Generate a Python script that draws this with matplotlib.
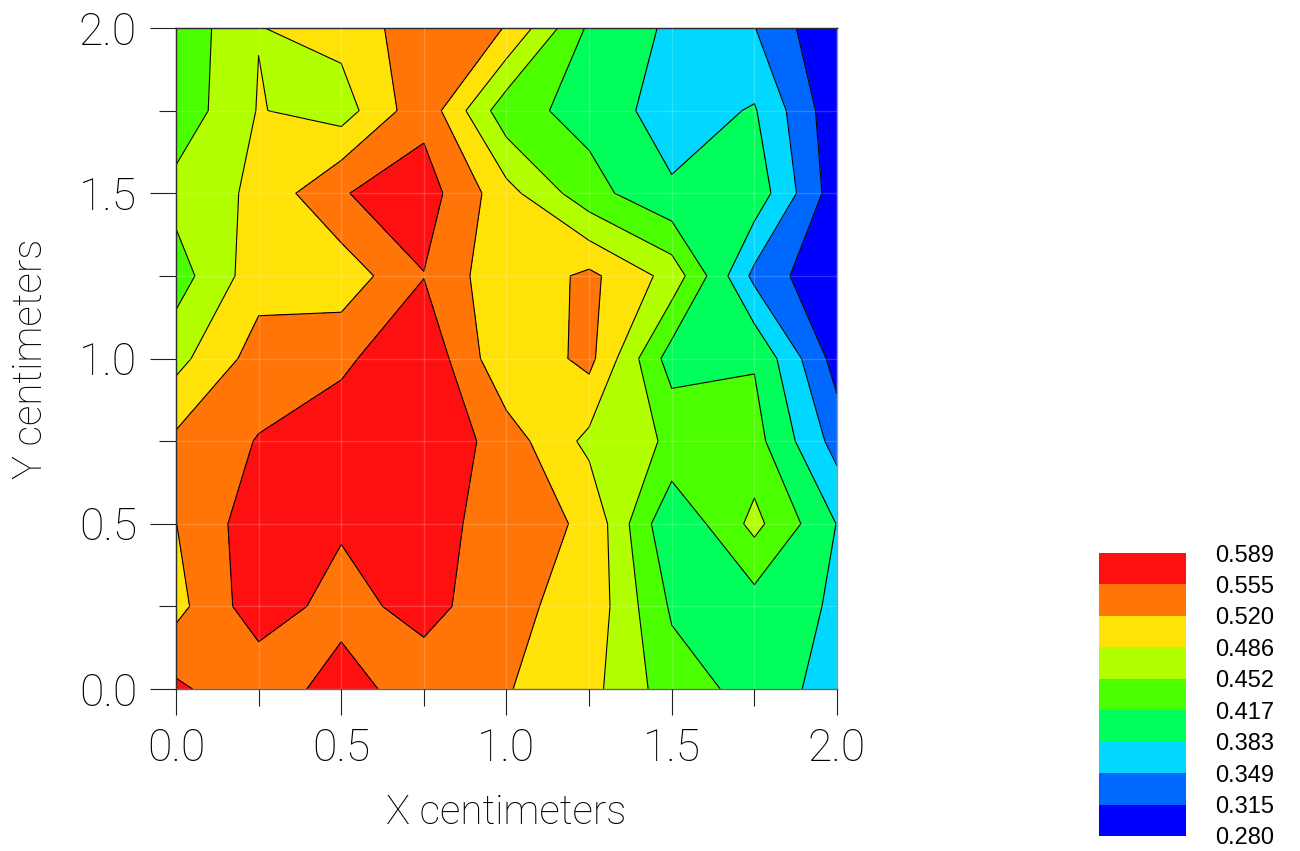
import matplotlib
matplotlib.use("Agg")
import matplotlib.pyplot as plt
from matplotlib.ticker import MultipleLocator, FormatStrFormatter

# -----------------------------
# Grid data
# -----------------------------
x_cm = [0.0, 0.25, 0.5, 0.75, 1.0, 1.25, 1.5, 1.75, 2.0]
y_cm = [0.0, 0.25, 0.5, 0.75, 1.0, 1.25, 1.5, 1.75, 2.0]

# one row per y value, bottom (y=0) first
z_vals = [
    [0.562, 0.527, 0.575, 0.530, 0.522, 0.497, 0.434, 0.405, 0.367],
    [0.509, 0.576, 0.540, 0.570, 0.526, 0.511, 0.412, 0.401, 0.379],
    [0.5195, 0.576, 0.560, 0.573, 0.535, 0.515, 0.385, 0.462, 0.382],
    [0.527, 0.557, 0.575, 0.587, 0.537, 0.477, 0.447, 0.430, 0.335],
    [0.475, 0.535, 0.548, 0.583, 0.491, 0.530, 0.400, 0.414, 0.300],
    [0.436, 0.506, 0.498, 0.554, 0.493, 0.528, 0.474, 0.340, 0.282],
    [0.464, 0.493, 0.553, 0.572, 0.498, 0.430, 0.388, 0.405, 0.295],
    [0.429, 0.488, 0.470, 0.544, 0.430, 0.405, 0.366, 0.386, 0.290],
    [0.427, 0.485, 0.498, 0.540, 0.519, 0.411, 0.377, 0.350, 0.281],
]

levels = [0.280, 0.315, 0.349, 0.383, 0.417, 0.452, 0.486, 0.520, 0.555, 0.589]
level_labels = ['0.280', '0.315', '0.349', '0.383', '0.417',
                '0.452', '0.486', '0.520', '0.555', '0.589']
band_colors = ['#0000ff', '#0068ff', '#00d8ff', '#00ff5a', '#4cff00',
               '#b2ff00', '#ffe208', '#ff7508', '#ff1010']

# -----------------------------
# Figure
# -----------------------------
W, H = 1300, 851
fig = plt.figure(figsize=(W / 100, H / 100), dpi=100)
ax = fig.add_axes([176 / W, 1 - 689 / H, 661 / W, 661 / H])

ax.contourf(x_cm, y_cm, z_vals, levels=levels, colors=band_colors)
ax.contour(x_cm, y_cm, z_vals, levels=levels[1:-1], colors='black', linewidths=0.8)

ax.set_xlim(0, 2)
ax.set_ylim(0, 2)
ax.xaxis.set_major_locator(MultipleLocator(0.5))
ax.yaxis.set_major_locator(MultipleLocator(0.5))
ax.xaxis.set_minor_locator(MultipleLocator(0.25))
ax.yaxis.set_minor_locator(MultipleLocator(0.25))
ax.xaxis.set_major_formatter(FormatStrFormatter('%.1f'))
ax.yaxis.set_major_formatter(FormatStrFormatter('%.1f'))

# faint cell lines like in the original render
ax.set_axisbelow(False)
ax.grid(True, which='both', color='white', alpha=0.18, linewidth=1)

ax.tick_params(which='major', direction='out', length=19, width=0.8,
               color='#222222', labelsize=32, pad=9)
ax.tick_params(which='minor', direction='out', length=12, width=0.8,
               color='#222222')
for lab in ax.get_xticklabels() + ax.get_yticklabels():
    lab.set_fontfamily('Roboto')
    lab.set_fontweight('light')

ax.spines['top'].set_color('black')
ax.spines['left'].set_color('black')
ax.spines['bottom'].set_color('#666666')
ax.spines['right'].set_color('#999999')
for s in ax.spines.values():
    s.set_linewidth(1)

ax.set_xlabel('X centimeters', fontsize=29, family='Roboto', weight='light')
ax.set_ylabel('Y centimeters', fontsize=29, family='Roboto', weight='light')
ax.xaxis.set_label_coords(0.5, -0.158)
ax.yaxis.set_label_coords(-0.19, 0.5)

# -----------------------------
# Legend boxes
# -----------------------------
leg = fig.add_axes([1099 / W, 1 - 836 / H, 87 / W, 283 / H])
leg.bar([0] * len(band_colors), [1] * len(band_colors),
        bottom=list(range(len(band_colors))), color=band_colors, width=1.0)
leg.set_xlim(-0.5, 0.5)
leg.set_ylim(0, len(band_colors))
leg.set_xticks([])
leg.yaxis.tick_right()
leg.set_yticks(list(range(len(level_labels))))
leg.set_yticklabels(level_labels, family='Liberation Sans', fontsize=17)
leg.tick_params(axis='y', length=0, pad=21)
for s in leg.spines.values():
    s.set_visible(False)

fig.savefig('out.png', dpi=100)
